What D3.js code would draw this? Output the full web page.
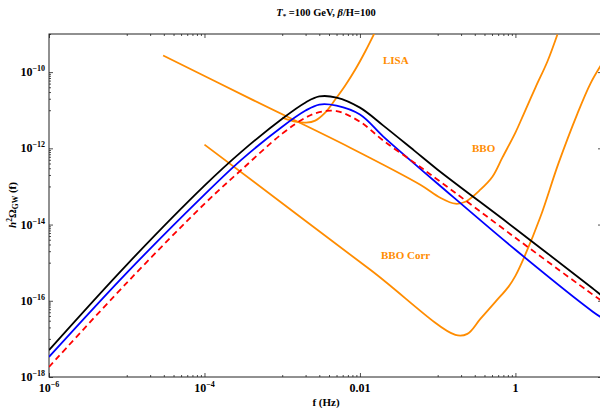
<!DOCTYPE html>
<html>
<head>
<meta charset="utf-8">
<script src="https://cdn.jsdelivr.net/npm/d3@7"></script>
<style>
body { margin: 0; background: #fff; }
text { font-family: "Liberation Serif", "Times New Roman", serif; font-weight: bold; }
</style>
</head>
<body>
<svg id="chart"></svg>
<script>
var freq = [1e-6, 1e-5, 1e-4, 3e-4, 1e-3, 2e-3, 3e-3, 5e-3, 1e-2, 2e-2, 5e-2, 0.1, 1, 10, 13];
var omegaBlack = [5.1e-18, 8.8e-16, 1.05e-13, 8.2e-13, 6.0e-12, 1.6e-11, 2.3e-11, 2.15e-11, 1.17e-11, 3.95e-12, 8.7e-13, 2.75e-13, 7.8e-15, 2.06e-16, 1.35e-16];
var omegaBlue = [3.36e-18, 5.4e-16, 6.1e-14, 5.05e-13, 3.7e-12, 9.8e-12, 1.41e-11, 1.32e-11, 7.7e-12, 2.03e-12, 3.96e-13, 1.18e-13, 2.18e-15, 5.1e-17, 3.56e-17];
var omegaRed = [1.83e-18, 2.95e-16, 3.5e-14, 2.75e-13, 2.43e-12, 6.4e-12, 8.9e-12, 9.5e-12, 5.0e-12, 1.59e-12, 4.2e-13, 1.5e-13, 4.5e-15, 1.43e-16, 9.9e-17];

// detector sensitivity curves
var lisaF = [1.0e-3, 1.47e-3, 2.04e-3, 2.66e-3, 3.57e-3, 4.81e-3, 6.47e-3, 8.71e-3, 1.17e-2, 1.53e-2];
var lisaOmega = [6.4e-12, 5.04e-12, 4.73e-12, 5.35e-12, 8.67e-12, 1.91e-11, 4.45e-11, 1.17e-10, 3.48e-10, 1.03e-9];
var bboF = [2.94e-5, 3.87e-4, 7.5e-3, 5.98e-2, 0.108, 0.169, 0.227, 0.354, 0.506, 0.679, 1.0, 1.27, 1.81, 2.58, 3.47];
var bboOmega = [2.73e-10, 2.02e-11, 1.04e-12, 1.11e-13, 5.06e-14, 3.52e-14, 3.97e-14, 8.22e-14, 1.8e-13, 5.7e-13, 2.59e-12, 7.69e-12, 3.94e-11, 1.9e-10, 9.73e-10];
var corrF = [1e-4, 1.36e-2, 0.169, 0.241, 0.354, 0.552, 0.813, 1.0, 1.27, 2.10, 3.57, 6.28, 9.23, 13];
var corrOmega = [1.25e-12, 6.49e-16, 1.27e-17, 1.35e-17, 3.34e-17, 9.35e-17, 2.32e-16, 4.51e-16, 1.26e-15, 1.6e-14, 3.96e-13, 8.17e-12, 5.01e-11, 1.68e-10];

var xMajor = [1e-6, 1e-4, 1e-2, 1];
var xLabels = [["10", "\u22126"], ["10", "\u22124"], ["0.01", ""], ["1", ""]];
var yMajor = [1e-18, 1e-16, 1e-14, 1e-12, 1e-10];
var yLabels = ["\u221218", "\u221216", "\u221214", "\u221212", "\u221210"];

var width = 600, height = 408;
var pLeft = 49, pRight = 602, pTop = 34, pBottom = 377;
var orange = "#ff8c00";

var svg = d3.select("#chart").attr("width", width).attr("height", height);

var x = d3.scaleLog().domain([1e-6, 13]).range([pLeft, pRight]);
var y = d3.scaleLog().domain([1e-18, 1e-9]).range([pBottom, pTop]);

// minor ticks: the decade just below each major tick
function minorsOf(majors, scale) {
    var out = [];
    var dom = scale.domain();
    majors.concat([majors[majors.length - 1] * 100]).forEach(function(m) {
        for (var k = 1; k <= 9; k++) {
            var v = k * m / 10;
            if (v >= dom[0] * 0.999 && v <= dom[1] * 1.001) out.push(v);
        }
    });
    return out;
}
var xMinor = minorsOf(xMajor, x).filter(function(v) { return v < 2; });
var yMinor = minorsOf(yMajor, y);

svg.append("defs").append("clipPath").attr("id", "plotclip")
   .append("rect").attr("x", pLeft).attr("y", pTop)
   .attr("width", pRight - pLeft).attr("height", pBottom - pTop);

// ticks on all four sides, pointing inwards
function tickAxis(axisFn, scale, vals, size, tx, ty) {
    var g = svg.append("g").attr("transform", "translate(" + tx + "," + ty + ")")
        .call(axisFn(scale).tickValues(vals).tickSize(size).tickFormat(""));
    g.select(".domain").remove();
    g.selectAll("line").attr("stroke", "#222").attr("stroke-width", 0.8);
}
tickAxis(d3.axisTop, x, xMajor, 4, 0, pBottom);
tickAxis(d3.axisTop, x, xMinor, 2, 0, pBottom);
tickAxis(d3.axisBottom, x, xMajor, 4, 0, pTop);
tickAxis(d3.axisBottom, x, xMinor, 2, 0, pTop);
tickAxis(d3.axisRight, y, yMajor, 4, pLeft, 0);
tickAxis(d3.axisRight, y, yMinor, 2, pLeft, 0);
tickAxis(d3.axisLeft, y, yMajor, 4, pRight, 0);
tickAxis(d3.axisLeft, y, yMinor, 2, pRight, 0);

svg.append("rect").attr("x", pLeft).attr("y", pTop)
   .attr("width", pRight - pLeft).attr("height", pBottom - pTop)
   .attr("fill", "none").attr("stroke", "#222").attr("stroke-width", 1);

// tick labels
var xl = svg.selectAll(".xlab").data(xMajor).enter().append("text")
    .attr("class", "xlab")
    .attr("x", function(d) { return x(d); })
    .attr("y", 392)
    .attr("text-anchor", "middle")
    .style("font-size", "12px");
xl.append("tspan").text(function(d, i) { return xLabels[i][0]; });
xl.append("tspan").attr("dy", -5).style("font-size", "8px")
  .text(function(d, i) { return xLabels[i][1]; });

var yl = svg.selectAll(".ylab").data(yMajor).enter().append("text")
    .attr("class", "ylab")
    .attr("x", 45)
    .attr("y", function(d) { return y(d) + 4; })
    .attr("text-anchor", "end")
    .style("font-size", "12px");
yl.append("tspan").text("10");
yl.append("tspan").attr("dy", -5).style("font-size", "8px")
  .text(function(d, i) { return yLabels[i]; });

// axis titles
svg.append("text").attr("x", 326).attr("y", 406).attr("text-anchor", "middle")
   .style("font-size", "11px").text("f (Hz)");

var ylab = svg.append("text")
   .attr("transform", "translate(16,205) rotate(-90)")
   .attr("text-anchor", "middle")
   .style("font-size", "11px");
ylab.append("tspan").style("font-style", "italic").text("h");
ylab.append("tspan").attr("dy", -4).style("font-size", "7.5px").text("2");
ylab.append("tspan").attr("dy", 4).text("\u03a9");
ylab.append("tspan").attr("dy", 2).style("font-size", "7.5px").text("GW");
ylab.append("tspan").attr("dy", -2).text(" (f)");

var title = svg.append("text").attr("x", 326).attr("y", 16)
   .attr("text-anchor", "middle").style("font-size", "10.5px");
title.append("tspan").style("font-style", "italic").text("T");
title.append("tspan").attr("dy", 2).style("font-size", "7px").text("*");
title.append("tspan").attr("dy", -2).text(" =100 GeV, ");
title.append("tspan").style("font-style", "italic").text("\u03b2");
title.append("tspan").text("/H=100");

// curves
var plot = svg.append("g").attr("clip-path", "url(#plotclip)");

function drawCurve(fs, vals, color, dash) {
    var line = d3.line()
        .x(function(d) { return x(d[0]); })
        .y(function(d) { return y(d[1]); })
        .curve(d3.curveCatmullRom.alpha(0.5));
    plot.append("path")
        .datum(d3.zip(fs, vals))
        .attr("fill", "none")
        .attr("stroke", color)
        .attr("stroke-width", 1.8)
        .attr("stroke-dasharray", dash || null)
        .attr("d", line);
}

drawCurve(bboF, bboOmega, orange);
drawCurve(corrF, corrOmega, orange);
drawCurve(lisaF, lisaOmega, orange);
drawCurve(freq, omegaBlack, "#000");
drawCurve(freq, omegaBlue, "#0000ff");
drawCurve(freq, omegaRed, "#ff0000", "6,4");

// detector labels
var detLabels = [["LISA", 383, 64], ["BBO", 472, 152], ["BBO Corr", 381, 259]];
svg.selectAll(".det").data(detLabels).enter().append("text")
   .attr("class", "det")
   .attr("x", function(d) { return d[1]; })
   .attr("y", function(d) { return d[2]; })
   .attr("fill", orange)
   .style("font-size", "11px")
   .text(function(d) { return d[0]; });
</script>
</body>
</html>
